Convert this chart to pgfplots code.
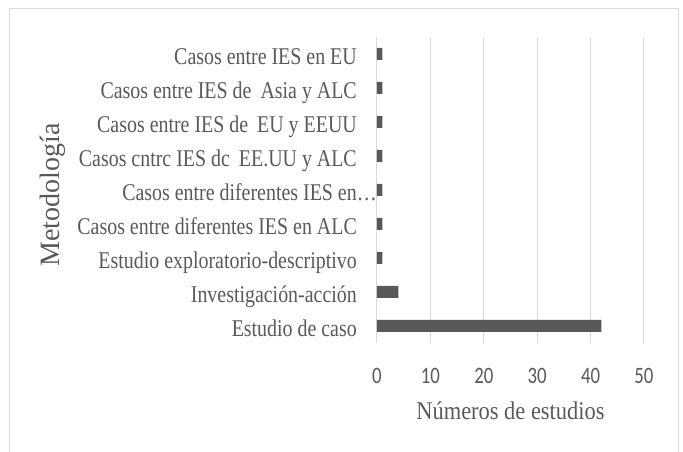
\documentclass[border=0pt]{standalone}
\usepackage{pgfplots}
\pgfplotsset{compat=1.18}
\usepackage{fontspec}
\setmainfont{Liberation Serif}
\newfontfamily\tickserif{Liberation Serif}[FakeStretch=0.83]
\newfontfamily\labserif{Liberation Serif}[FakeStretch=0.88]
\newfontfamily\numsans{Carlito}[FakeStretch=0.8]
\definecolor{txt}{HTML}{595959}
\definecolor{barc}{HTML}{595959}
\definecolor{gridc}{HTML}{D9D9D9}
\definecolor{framec}{HTML}{D9D9D9}

\begin{document}
\begin{tikzpicture}
\useasboundingbox (-377pt,-109pt) rectangle (306pt,343pt);
\draw[framec, line width=1pt] (-367.5pt,-112pt) -- (-367.5pt,334.5pt) -- (301pt,334.5pt) -- (301pt,-112pt);
\begin{axis}[
  at={(0pt,0pt)}, anchor=south west,
  scale only axis, width=267pt, height=306pt,
  xbar, bar width=12pt,
  xmin=0, xmax=50, ymin=-0.5, ymax=8.5,
  xtick={0,10,...,50},
  ytick={0,...,8},
  yticklabels={Estudio de caso,
    {Investigación-acción\hspace{5pt}},
    Estudio exploratorio-descriptivo,
    Casos entre diferentes IES en ALC,
    {Casos entre diferentes IES en\rlap{…}},
    {Casos cntrc IES dc\hspace{4pt} EE.UU y ALC\hspace{5pt}},
    {Casos entre IES de\hspace{4pt} EU y EEUU},
    {Casos entre IES de\hspace{4pt} Asia y ALC},
    Casos entre IES en EU},
  major tick length=0pt,
  xmajorgrids, major grid style={gridc, line width=1pt},
  axis line style={draw=none},
  /pgf/number format/assume math mode=true,
  xticklabel style={font=\numsans\fontsize{23.5}{27}\selectfont, text=txt, anchor=north, inner sep=0pt, yshift=-25pt},
  yticklabel style={font=\tickserif\fontsize{24}{28}\selectfont, text=txt, anchor=east, inner sep=0pt, xshift=-20pt, text height=22.5pt, text depth=2pt},
  clip=false,
]
\addplot[fill=barc, draw=none] coordinates {(42,0) (4,1) (1,2) (1,3) (1,4) (1,5) (1,6) (1,7) (1,8)};
\end{axis}
\node[font=\labserif\fontsize{25.5}{30}\selectfont, text=txt, anchor=base, inner sep=0pt] at (133.5pt,-77pt) {Números de estudios};
\node[font=\fontsize{28}{33}\selectfont, text=txt, rotate=90, anchor=base, inner sep=0pt] at (-317pt,148pt) {Metodología};
\end{tikzpicture}
\end{document}
